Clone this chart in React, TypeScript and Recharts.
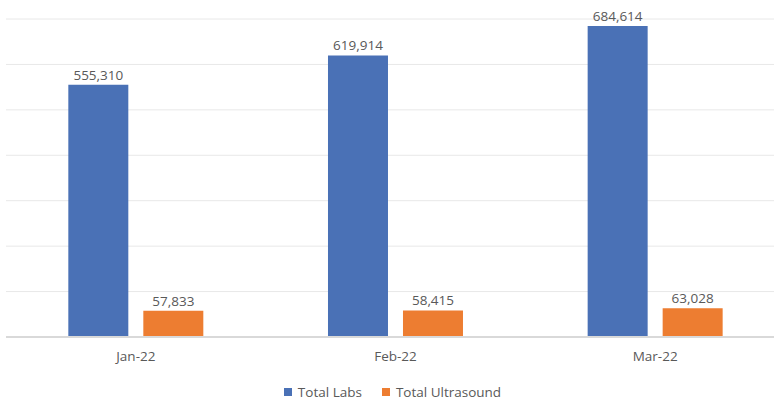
import React from 'react';
import { BarChart, Bar, XAxis, YAxis, CartesianGrid, Legend, LabelList } from 'recharts';

const months = ['Jan-22', 'Feb-22', 'Mar-22'];
const totalLabs = [555310, 619914, 684614];
const totalUltrasound = [57833, 58415, 63028];
const yTicks = [0, 100000, 200000, 300000, 400000, 500000, 600000, 700000];

const data = months.map((m, i) => ({ month: m, labs: totalLabs[i], ultrasound: totalUltrasound[i] }));

const fmt = (v: any) => Number(v).toLocaleString('en-US');
const FONT = '"Open Sans", sans-serif';
const TEXT = '#595959';

const LegendContent = (props: any) => {
  const { payload } = props;
  return (
    <div style={{ display: 'flex', justifyContent: 'center', alignItems: 'flex-end', fontFamily: FONT, fontSize: 13.5, color: TEXT, lineHeight: '14px', height: 29, boxSizing: 'border-box', paddingBottom: 1 }}>
      {(payload || []).map((p: any, i: number) => (
        <div key={i} style={{ display: 'flex', alignItems: 'center', marginLeft: i === 0 ? 0 : 20 }}>
          <span style={{ display: 'inline-block', width: 8, height: 8, background: p.color, marginRight: 6 }} />
          <span>{p.value}</span>
        </div>
      ))}
    </div>
  );
};

export default function App() {
  return (
    <div style={{ position: 'absolute', left: 0, top: 0, width: 774, height: 400, background: '#fff', overflow: 'hidden', fontFamily: FONT }}>
      <BarChart
        width={785}
        height={400}
        data={data}
        margin={{ top: 19, right: 0, left: 6, bottom: 0 }}
        barCategoryGap="24%"
        barGap={15}
      >
        <CartesianGrid vertical={false} stroke="#e8e8e8" strokeWidth={1} />
        <YAxis hide domain={[0, 700000]} ticks={yTicks} />
        <XAxis
          dataKey="month"
          axisLine={{ stroke: '#d9d9d9', strokeWidth: 2 }}
          tickLine={false}
          tick={{ fill: TEXT, fontSize: 13.5, fontFamily: FONT }}
          tickMargin={8}
          height={34}
        />
        <Legend
          verticalAlign="bottom"
          align="center"
          content={<LegendContent />}
          wrapperStyle={{ left: 0, width: 785 }}
        />
        <Bar dataKey="labs" name="Total Labs" fill="#4a71b6" isAnimationActive={false}>
          <LabelList dataKey="labs" position="top" formatter={fmt} fill={TEXT} fontSize={13.5} fontFamily={FONT} />
        </Bar>
        <Bar dataKey="ultrasound" name="Total Ultrasound" fill="#ed7d31" isAnimationActive={false}>
          <LabelList dataKey="ultrasound" position="top" formatter={fmt} fill={TEXT} fontSize={13.5} fontFamily={FONT} />
        </Bar>
      </BarChart>
    </div>
  );
}
